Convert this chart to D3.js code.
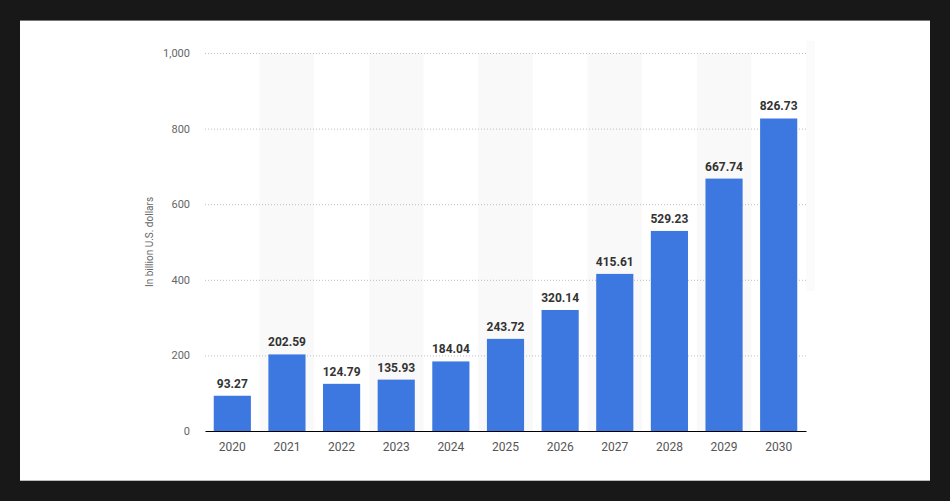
<!DOCTYPE html>
<html><head><meta charset="utf-8">
<script src="https://cdn.jsdelivr.net/npm/d3@7/dist/d3.min.js"></script>
<style>
body{margin:0;background:#181818;}
svg{display:block;}
</style></head>
<body>
<svg id="chart" width="950" height="501"></svg>
<script>
const years = ["2020","2021","2022","2023","2024","2025","2026","2027","2028","2029","2030"];
const values = [93.27,202.59,124.79,135.93,184.04,243.72,320.14,415.61,529.23,667.74,826.73];
const yTicks = [0,200,400,600,800,1000];
const yTitle = "In billion U.S. dollars";

(function(){
const svg = d3.select("#chart");
svg.append("rect").attr("x",20).attr("y",20).attr("width",910).attr("height",460).attr("fill","#ffffff");
svg.append("line").attr("x1",20).attr("x2",930).attr("y1",20.5).attr("y2",20.5).attr("stroke","#777").attr("stroke-width",1);
svg.append("line").attr("x1",20).attr("x2",930).attr("y1",480.5).attr("y2",480.5).attr("stroke","#bbb").attr("stroke-width",1);

const mLeft = 205, mRight = 806, mTop = 53, mBottom = 431;
const x = d3.scaleBand().domain(years).range([mLeft,mRight]).paddingInner(0.32).paddingOuter(0.16);
const xb = d3.scaleBand().domain(years).range([mLeft,mRight]).padding(0);
const y = d3.scaleLinear().domain([0,1000]).range([mBottom,mTop]);

// faint side shade
svg.append("rect").attr("x",806).attr("y",41).attr("width",9).attr("height",250).attr("fill","#fbfbfc");

// alternating band shading
svg.append("g").selectAll("rect").data(years.filter((d,i)=>i%2===1)).join("rect")
  .attr("x",d=>xb(d)).attr("width",xb.bandwidth())
  .attr("y",mTop).attr("height",mBottom-mTop).attr("fill","#f9f9f9");

// grid
const gy = svg.append("g").attr("transform",`translate(${mLeft},0)`)
  .call(d3.axisLeft(y).tickValues(yTicks).tickSize(-(mRight-mLeft)).tickFormat(d3.format(",")).tickPadding(15));
gy.select(".domain").remove();
gy.selectAll(".tick line").attr("stroke","#bdbdbd").attr("stroke-dasharray","1,2").filter(d=>d===0).remove();
gy.selectAll(".tick text").attr("fill","#666").attr("font-family","Roboto, sans-serif").attr("font-size",11);

// bars
svg.append("g").selectAll("rect").data(years).join("rect")
  .attr("x",d=>x(d)).attr("width",x.bandwidth())
  .attr("y",(d,i)=>y(values[i])).attr("height",(d,i)=>y(0)-y(values[i]))
  .attr("fill","#3c78e0");

// value labels
svg.append("g").selectAll("text").data(years).join("text")
  .attr("x",d=>x(d)+x.bandwidth()/2).attr("y",(d,i)=>y(values[i])-8)
  .attr("text-anchor","middle").attr("font-family","Roboto, sans-serif").attr("font-weight","bold")
  .attr("font-size",12).attr("fill","#333")
  .text((d,i)=>values[i].toFixed(2));

// x axis
const gx = svg.append("g").attr("transform",`translate(0,${mBottom})`)
  .call(d3.axisBottom(xb).tickSize(0).tickPadding(11));
gx.select(".domain").attr("stroke","#000").attr("stroke-width",1.2);
gx.selectAll(".tick text").attr("fill","#555").attr("font-family","Roboto, sans-serif").attr("font-size",12);

// y title
svg.append("text").attr("transform",`translate(153,242) rotate(-90)`)
  .attr("text-anchor","middle").attr("font-family","Roboto, sans-serif").attr("font-size",10).attr("fill","#666")
  .text(yTitle);
})();
</script>
</body></html>
